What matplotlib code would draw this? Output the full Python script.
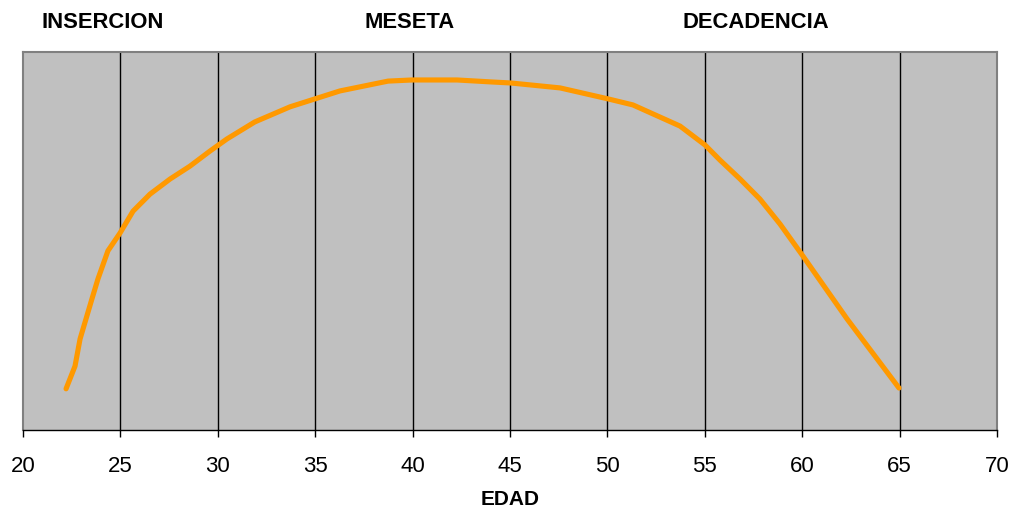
import matplotlib
matplotlib.use("Agg")
import matplotlib.pyplot as plt

plt.rcParams['font.family'] = ['Liberation Sans', 'DejaVu Sans']

# Career curve: age vs. relative performance level
edad = [22.21, 22.67, 22.93, 23.54, 23.85, 24.36, 24.98, 25.65, 26.52, 27.55,
        28.57, 29.60, 30.47, 31.90, 33.71, 34.99, 36.27, 38.74, 39.97, 42.28,
        43.97, 45.05, 47.57, 50.03, 51.31, 53.73, 55.01, 55.78, 56.81,
        57.83, 58.86, 60.04, 62.30, 64.97]
nivel = [10.9, 16.9, 24.1, 34.7, 40.0, 47.4, 52.1, 57.9, 62.4, 66.4,
         69.8, 73.8, 77.0, 81.5, 85.5, 87.6, 89.7, 92.3, 92.6, 92.6,
         92.1, 91.8, 90.5, 87.6, 86.0, 80.4, 75.4, 71.4, 66.4,
         61.1, 54.5, 46.0, 29.4, 11.1]

x_ticks = [20, 25, 30, 35, 40, 45, 50, 55, 60, 65, 70]
fases = ["INSERCION", "MESETA", "DECADENCIA"]
fases_x = [103, 410, 756]  # horizontal centres in pixels

W, H = 1011, 510
fig = plt.figure(figsize=(W / 100, H / 100), dpi=100)
ax = fig.add_axes([23 / W, (H - 431) / H, (997 - 23) / W, (431 - 53) / H])
ax.set_facecolor('#C0C0C0')

ax.set_xlim(20, 70)
ax.set_ylim(0, 100)
ax.set_xticks(x_ticks)
ax.set_xticklabels([str(t) for t in x_ticks], fontsize=16)
ax.set_yticks([])
ax.tick_params(axis='x', direction='out', length=5, width=1, color='black', pad=13)

for t in x_ticks[1:-1]:
    ax.axvline(t, color='black', linewidth=1, zorder=1)

ax.plot(edad, nivel, color='#FF9900', linewidth=3.7, solid_capstyle='round',
        solid_joinstyle='round', zorder=3)

for side in ['left', 'top', 'right']:
    ax.spines[side].set_color('#808080')
    ax.spines[side].set_linewidth(1.5)
ax.spines['bottom'].set_color('black')
ax.spines['bottom'].set_linewidth(1)

for name, px in zip(fases, fases_x):
    fig.text(px / W, 1 - 22 / H, name, ha='center', va='center',
             fontsize=15.8, fontweight='bold')

fig.text(510 / W, 1 - 500 / H, "EDAD", ha='center', va='center',
         fontsize=15, fontweight='bold')

fig.savefig('out.png', dpi=100, facecolor='white')
